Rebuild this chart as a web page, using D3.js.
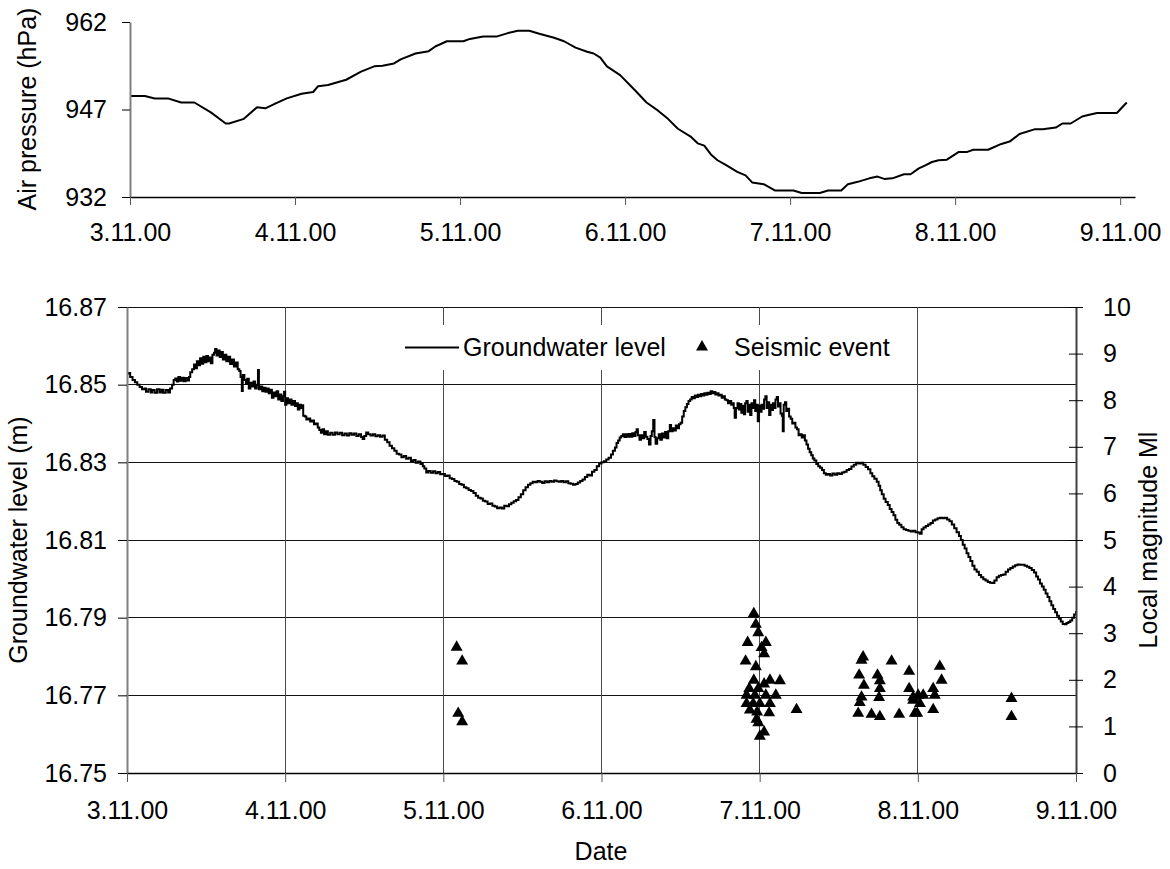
<!DOCTYPE html>
<html>
<head>
<meta charset="utf-8">
<script src="https://cdn.jsdelivr.net/npm/d3@7"></script>
<style>
  body { margin: 0; background: #fff; }
  svg text { font-family: "Liberation Sans", Arial, Helvetica, sans-serif; fill: #000; }
</style>
</head>
<body>
<svg id="chart" width="1170" height="869"></svg>
<script>
// ---------- data ----------
// Day offsets are counted from 3.11.00 00:00.
const dateLabels = ["3.11.00", "4.11.00", "5.11.00", "6.11.00", "7.11.00", "8.11.00", "9.11.00"];
const dayTicks = [0, 1, 2, 3, 4, 5, 6];
const pressureTicks = [932, 947, 962];
const levelTicks = [16.75, 16.77, 16.79, 16.81, 16.83, 16.85, 16.87];
const magnitudeTicks = [0, 1, 2, 3, 4, 5, 6, 7, 8, 9, 10];

// Air pressure [day, hPa]
const pressureReadings = [
  [0, 949.3], [0.09, 949.3], [0.15, 948.9], [0.23, 948.9], [0.31, 948.2], [0.39, 948.2], [0.49, 946.5], [0.58, 944.6], [0.60, 944.6], [0.69, 945.4],
  [0.77, 947.4], [0.82, 947.2], [0.88, 948.0], [0.95, 948.9], [1.04, 949.7], [1.11, 950.0], [1.14, 951.0], [1.20, 951.2], [1.31, 952.1], [1.40, 953.5],
  [1.48, 954.4], [1.53, 954.5], [1.60, 954.9], [1.64, 955.6], [1.73, 956.6], [1.81, 957.0], [1.85, 957.8], [1.92, 958.7], [2.02, 958.7], [2.06, 959.1],
  [2.14, 959.5], [2.22, 959.5], [2.29, 960.1], [2.35, 960.5], [2.42, 960.5], [2.48, 960.0], [2.57, 959.3], [2.63, 958.7], [2.70, 957.6], [2.77, 956.9],
  [2.81, 956.6], [2.85, 955.9], [2.89, 954.4], [2.97, 952.9], [3.06, 950.3], [3.13, 948.2], [3.20, 946.8], [3.26, 945.4], [3.32, 943.7], [3.40, 942.3],
  [3.44, 941.2], [3.48, 940.8], [3.52, 939.3], [3.56, 938.3], [3.61, 937.5], [3.68, 936.3], [3.73, 935.7], [3.77, 934.5], [3.84, 934.2], [3.91, 933.1],
  [4.02, 933.1], [4.07, 932.7], [4.18, 932.7], [4.23, 933.1], [4.31, 933.1], [4.35, 934.2], [4.41, 934.6], [4.48, 935.2], [4.53, 935.5], [4.57, 935.1],
  [4.62, 935.2], [4.69, 935.9], [4.73, 935.9], [4.78, 936.9], [4.81, 937.3], [4.86, 938.0], [4.90, 938.3], [4.95, 938.4], [5.02, 939.7], [5.07, 939.7],
  [5.11, 940.1], [5.20, 940.1], [5.28, 941.1], [5.33, 941.5], [5.39, 942.8], [5.48, 943.6], [5.53, 943.6], [5.61, 943.9], [5.65, 944.6], [5.70, 944.6],
  [5.77, 945.8], [5.80, 946.0], [5.86, 946.4], [5.98, 946.4], [6.04, 948.2]
];

// Groundwater level [day, m]
const groundwaterReadings = [
  [0.000, 16.8528], [0.010, 16.8530], [0.020, 16.8520], [0.035, 16.8512], [0.050, 16.8506], [0.065, 16.8500], [0.080, 16.8494], [0.095, 16.8488],
  [0.110, 16.8490], [0.120, 16.8482], [0.135, 16.8488], [0.150, 16.8480], [0.160, 16.8486], [0.175, 16.8479], [0.190, 16.8488], [0.205, 16.8480],
  [0.218, 16.8487], [0.230, 16.8479], [0.245, 16.8486], [0.260, 16.8480], [0.272, 16.8490], [0.285, 16.8500], [0.295, 16.8512], [0.305, 16.8516],
  [0.315, 16.8508], [0.325, 16.8520], [0.335, 16.8510], [0.345, 16.8518], [0.358, 16.8509], [0.370, 16.8517], [0.382, 16.8511], [0.392, 16.8520],
  [0.400, 16.8532], [0.412, 16.8540], [0.424, 16.8552], [0.432, 16.8542], [0.442, 16.8560], [0.452, 16.8550], [0.462, 16.8568], [0.472, 16.8554],
  [0.482, 16.8572], [0.492, 16.8558], [0.502, 16.8574], [0.512, 16.8560], [0.522, 16.8570], [0.530, 16.8555], [0.540, 16.8577], [0.550, 16.8582],
  [0.557, 16.8592], [0.566, 16.8575], [0.576, 16.8588], [0.586, 16.8571], [0.596, 16.8584], [0.606, 16.8565], [0.616, 16.8577], [0.628, 16.8560],
  [0.640, 16.8572], [0.652, 16.8553], [0.664, 16.8565], [0.676, 16.8547], [0.688, 16.8557], [0.700, 16.8540], [0.710, 16.8535], [0.718, 16.8520],
  [0.726, 16.8484], [0.732, 16.8525], [0.742, 16.8512], [0.752, 16.8502], [0.760, 16.8515], [0.770, 16.8490], [0.780, 16.8505], [0.790, 16.8495],
  [0.800, 16.8508], [0.810, 16.8490], [0.820, 16.8500], [0.828, 16.8538], [0.834, 16.8488], [0.845, 16.8495], [0.855, 16.8483], [0.865, 16.8492],
  [0.875, 16.8482], [0.885, 16.8490], [0.896, 16.8478], [0.906, 16.8487], [0.916, 16.8466], [0.926, 16.8480], [0.936, 16.8470], [0.946, 16.8483],
  [0.956, 16.8462], [0.966, 16.8475], [0.976, 16.8458], [0.986, 16.8470], [0.993, 16.8482], [1.000, 16.8448], [1.008, 16.8465], [1.018, 16.8452],
  [1.028, 16.8462], [1.040, 16.8448], [1.052, 16.8458], [1.062, 16.8445], [1.072, 16.8452], [1.080, 16.8436], [1.090, 16.8448], [1.100, 16.8440],
  [1.108, 16.8447], [1.114, 16.8420], [1.124, 16.8418], [1.134, 16.8410], [1.146, 16.8413], [1.158, 16.8405], [1.170, 16.8408], [1.182, 16.8398],
  [1.194, 16.8400], [1.206, 16.8390], [1.216, 16.8383], [1.226, 16.8376], [1.236, 16.8385], [1.246, 16.8372], [1.258, 16.8380], [1.270, 16.8371],
  [1.285, 16.8376], [1.300, 16.8371], [1.315, 16.8377], [1.330, 16.8372], [1.345, 16.8376], [1.360, 16.8370], [1.375, 16.8374], [1.390, 16.8369],
  [1.405, 16.8375], [1.420, 16.8371], [1.435, 16.8374], [1.450, 16.8368], [1.465, 16.8372], [1.480, 16.8365], [1.490, 16.8360], [1.500, 16.8368],
  [1.512, 16.8377], [1.525, 16.8372], [1.540, 16.8369], [1.555, 16.8372], [1.570, 16.8367], [1.585, 16.8370], [1.600, 16.8366], [1.615, 16.8369],
  [1.630, 16.8358], [1.645, 16.8352], [1.660, 16.8343], [1.675, 16.8336], [1.690, 16.8330], [1.705, 16.8322], [1.720, 16.8320], [1.735, 16.8313],
  [1.750, 16.8316], [1.765, 16.8309], [1.780, 16.8312], [1.795, 16.8303], [1.810, 16.8306], [1.825, 16.8299], [1.840, 16.8302], [1.855, 16.8296],
  [1.870, 16.8290], [1.880, 16.8284], [1.892, 16.8274], [1.905, 16.8278], [1.920, 16.8273], [1.935, 16.8277], [1.950, 16.8272], [1.965, 16.8275],
  [1.980, 16.8269], [1.995, 16.8270], [2.010, 16.8265], [2.025, 16.8266], [2.040, 16.8259], [2.055, 16.8257], [2.070, 16.8252], [2.085, 16.8250],
  [2.100, 16.8244], [2.115, 16.8242], [2.130, 16.8236], [2.145, 16.8233], [2.160, 16.8229], [2.175, 16.8226], [2.190, 16.8221], [2.205, 16.8214],
  [2.220, 16.8209], [2.235, 16.8207], [2.250, 16.8201], [2.265, 16.8199], [2.280, 16.8193], [2.295, 16.8194], [2.310, 16.8188], [2.325, 16.8186],
  [2.340, 16.8182], [2.355, 16.8184], [2.370, 16.8181], [2.385, 16.8188], [2.400, 16.8187], [2.415, 16.8192], [2.430, 16.8196], [2.445, 16.8200],
  [2.460, 16.8203], [2.475, 16.8210], [2.490, 16.8218], [2.505, 16.8228], [2.520, 16.8236], [2.535, 16.8242], [2.550, 16.8246], [2.565, 16.8250],
  [2.580, 16.8249], [2.595, 16.8252], [2.610, 16.8250], [2.625, 16.8247], [2.640, 16.8251], [2.655, 16.8249], [2.670, 16.8252], [2.685, 16.8250],
  [2.700, 16.8253], [2.715, 16.8251], [2.730, 16.8250], [2.745, 16.8252], [2.760, 16.8249], [2.775, 16.8251], [2.790, 16.8246], [2.805, 16.8245],
  [2.820, 16.8242], [2.835, 16.8244], [2.850, 16.8248], [2.865, 16.8252], [2.880, 16.8256], [2.895, 16.8262], [2.910, 16.8268], [2.925, 16.8266],
  [2.940, 16.8276], [2.955, 16.8280], [2.970, 16.8290], [2.985, 16.8297], [3.000, 16.8300], [3.015, 16.8303], [3.030, 16.8307], [3.045, 16.8312],
  [3.060, 16.8320], [3.072, 16.8330], [3.085, 16.8338], [3.095, 16.8350], [3.105, 16.8356], [3.115, 16.8364], [3.125, 16.8368], [3.135, 16.8372],
  [3.145, 16.8365], [3.155, 16.8372], [3.165, 16.8366], [3.175, 16.8373], [3.185, 16.8366], [3.195, 16.8375], [3.205, 16.8368], [3.215, 16.8378],
  [3.222, 16.8385], [3.230, 16.8370], [3.240, 16.8358], [3.250, 16.8370], [3.260, 16.8362], [3.270, 16.8378], [3.280, 16.8366], [3.290, 16.8360],
  [3.300, 16.8346], [3.310, 16.8368], [3.318, 16.8380], [3.327, 16.8409], [3.335, 16.8365], [3.342, 16.8348], [3.352, 16.8362], [3.362, 16.8372],
  [3.372, 16.8358], [3.382, 16.8374], [3.392, 16.8364], [3.402, 16.8378], [3.412, 16.8362], [3.422, 16.8380], [3.432, 16.8396], [3.440, 16.8380],
  [3.450, 16.8388], [3.460, 16.8382], [3.470, 16.8395], [3.480, 16.8388], [3.490, 16.8398], [3.500, 16.8402], [3.510, 16.8418], [3.520, 16.8432],
  [3.530, 16.8442], [3.540, 16.8450], [3.550, 16.8458], [3.560, 16.8462], [3.570, 16.8468], [3.580, 16.8465], [3.590, 16.8472], [3.600, 16.8468],
  [3.610, 16.8474], [3.620, 16.8470], [3.630, 16.8476], [3.640, 16.8472], [3.650, 16.8478], [3.660, 16.8474], [3.670, 16.8479], [3.680, 16.8476],
  [3.690, 16.8483], [3.700, 16.8478], [3.710, 16.8481], [3.720, 16.8475], [3.730, 16.8478], [3.740, 16.8472], [3.750, 16.8474], [3.760, 16.8466],
  [3.770, 16.8470], [3.780, 16.8462], [3.790, 16.8460], [3.800, 16.8452], [3.810, 16.8458], [3.820, 16.8448], [3.830, 16.8452], [3.836, 16.8440],
  [3.842, 16.8415], [3.850, 16.8440], [3.860, 16.8452], [3.868, 16.8436], [3.876, 16.8450], [3.884, 16.8428], [3.892, 16.8446], [3.900, 16.8424],
  [3.908, 16.8452], [3.916, 16.8458], [3.924, 16.8430], [3.932, 16.8448], [3.940, 16.8422], [3.948, 16.8452], [3.956, 16.8440], [3.964, 16.8460],
  [3.972, 16.8432], [3.980, 16.8448], [3.988, 16.8406], [3.996, 16.8446], [4.004, 16.8430], [4.012, 16.8448], [4.020, 16.8438], [4.028, 16.8462],
  [4.036, 16.8470], [4.044, 16.8440], [4.052, 16.8455], [4.060, 16.8422], [4.068, 16.8448], [4.076, 16.8435], [4.084, 16.8452], [4.092, 16.8440],
  [4.100, 16.8462], [4.108, 16.8468], [4.116, 16.8444], [4.124, 16.8452], [4.132, 16.8426], [4.140, 16.8420], [4.146, 16.8380], [4.152, 16.8448],
  [4.160, 16.8455], [4.168, 16.8432], [4.176, 16.8438], [4.186, 16.8418], [4.196, 16.8412], [4.206, 16.8400], [4.216, 16.8402], [4.226, 16.8390],
  [4.236, 16.8385], [4.246, 16.8370], [4.256, 16.8372], [4.266, 16.8364], [4.276, 16.8370], [4.286, 16.8356], [4.296, 16.8346], [4.306, 16.8335],
  [4.316, 16.8326], [4.326, 16.8318], [4.336, 16.8310], [4.346, 16.8305], [4.358, 16.8296], [4.370, 16.8290], [4.382, 16.8286], [4.394, 16.8280],
  [4.406, 16.8272], [4.418, 16.8268], [4.430, 16.8270], [4.445, 16.8266], [4.460, 16.8271], [4.475, 16.8268], [4.490, 16.8272], [4.505, 16.8270],
  [4.520, 16.8274], [4.535, 16.8276], [4.550, 16.8280], [4.565, 16.8283], [4.580, 16.8289], [4.595, 16.8294], [4.610, 16.8299], [4.625, 16.8297],
  [4.640, 16.8299], [4.655, 16.8294], [4.670, 16.8288], [4.685, 16.8282], [4.700, 16.8272], [4.712, 16.8264], [4.725, 16.8258], [4.740, 16.8250],
  [4.752, 16.8240], [4.762, 16.8228], [4.772, 16.8218], [4.784, 16.8206], [4.796, 16.8198], [4.810, 16.8190], [4.822, 16.8180], [4.834, 16.8172],
  [4.846, 16.8164], [4.858, 16.8152], [4.870, 16.8144], [4.882, 16.8139], [4.896, 16.8133], [4.910, 16.8128], [4.925, 16.8126], [4.940, 16.8124],
  [4.955, 16.8122], [4.970, 16.8124], [4.985, 16.8120], [5.000, 16.8119], [5.012, 16.8116], [5.024, 16.8128], [5.036, 16.8132], [5.050, 16.8136],
  [5.065, 16.8140], [5.080, 16.8144], [5.095, 16.8150], [5.110, 16.8153], [5.125, 16.8156], [5.140, 16.8157], [5.155, 16.8156], [5.170, 16.8157],
  [5.185, 16.8153], [5.200, 16.8148], [5.215, 16.8140], [5.230, 16.8130], [5.245, 16.8120], [5.260, 16.8110], [5.272, 16.8100], [5.284, 16.8088],
  [5.296, 16.8078], [5.308, 16.8066], [5.320, 16.8056], [5.332, 16.8046], [5.345, 16.8034], [5.358, 16.8024], [5.372, 16.8018], [5.386, 16.8010],
  [5.400, 16.8004], [5.414, 16.7999], [5.428, 16.7996], [5.442, 16.7992], [5.456, 16.7990], [5.470, 16.7989], [5.484, 16.7996], [5.498, 16.8004],
  [5.512, 16.8008], [5.526, 16.8010], [5.540, 16.8011], [5.555, 16.8018], [5.570, 16.8024], [5.585, 16.8028], [5.600, 16.8032], [5.615, 16.8035],
  [5.630, 16.8037], [5.645, 16.8036], [5.660, 16.8036], [5.675, 16.8034], [5.690, 16.8031], [5.705, 16.8028], [5.720, 16.8023], [5.735, 16.8016],
  [5.748, 16.8006], [5.760, 16.7998], [5.772, 16.7988], [5.784, 16.7980], [5.796, 16.7972], [5.808, 16.7962], [5.820, 16.7953], [5.832, 16.7942],
  [5.844, 16.7932], [5.856, 16.7922], [5.868, 16.7914], [5.880, 16.7905], [5.892, 16.7897], [5.904, 16.7890], [5.916, 16.7884], [5.928, 16.7883],
  [5.940, 16.7886], [5.952, 16.7889], [5.964, 16.7893], [5.976, 16.7900], [5.988, 16.7908], [6.000, 16.7917]
];

// Seismic events [day, local magnitude Ml]
const seismicEvents = [
  [2.084, 2.70], [2.119, 2.40], [2.094, 1.28], [2.119, 1.10],
  [3.963, 3.42], [3.976, 3.19], [3.991, 3.01], [3.924, 2.80], [4.039, 2.80], [4.012, 2.69], [4.028, 2.56], [3.911, 2.40],
  [3.976, 2.28], [3.963, 1.99], [4.028, 1.91], [4.065, 1.99], [4.128, 1.98], [3.934, 1.81], [3.991, 1.81], [3.917, 1.67],
  [3.970, 1.67], [4.039, 1.67], [4.102, 1.67], [3.917, 1.49], [3.959, 1.49], [4.001, 1.49], [4.065, 1.49], [3.938, 1.35],
  [3.984, 1.31], [4.060, 1.29], [3.980, 1.15], [3.991, 1.08], [4.028, 0.88], [4.001, 0.79], [4.233, 1.36],
  [4.654, 2.49], [4.644, 2.42], [4.629, 2.10], [4.659, 1.88], [4.644, 1.63], [4.633, 1.51], [4.623, 1.28], [4.745, 2.10],
  [4.760, 1.98], [4.760, 1.81], [4.755, 1.62], [4.707, 1.26], [4.760, 1.21], [4.834, 2.40], [4.882, 1.26], [4.945, 2.18],
  [4.945, 1.81], [4.970, 1.63], [5.002, 1.67], [5.034, 1.67], [4.970, 1.56], [5.013, 1.49], [4.981, 1.28], [4.996, 1.28],
  [5.097, 1.81], [5.107, 1.67], [5.097, 1.36], [5.139, 2.29], [5.150, 1.99], [5.592, 1.60], [5.592, 1.21]
];

// ---------- drawing ----------
const FONT = "Liberation Sans, Arial, Helvetica, sans-serif";
const FS = 25;
const MARKER = 62;
const svg = d3.select("#chart");

function styleAxis(g, domainColor, domainWidth, tickColor) {
  g.attr("font-family", FONT).attr("font-size", FS);
  g.select(".domain").attr("stroke", domainColor).attr("stroke-width", domainWidth);
  g.selectAll(".tick line").attr("stroke", tickColor).attr("stroke-width", 1);
  g.selectAll(".tick text").attr("fill", "#000");
}

// ----- Air pressure panel -----
const xP = d3.scaleLinear().domain([0, 6.09]).range([130, 1135]);
const yP = d3.scaleLinear().domain([932, 962]).range([197, 22]);
const pressurePanel = svg.append("g");

pressurePanel.append("path")
  .datum(pressureReadings)
  .attr("fill", "none")
  .attr("stroke", "#000")
  .attr("stroke-width", 2)
  .attr("stroke-linejoin", "round")
  .attr("d", d3.line().x(d => xP(d[0])).y(d => yP(d[1])));

const pressureAxisY = pressurePanel.append("g")
  .attr("transform", "translate(130,0)")
  .call(d3.axisLeft(yP).tickValues(pressureTicks).tickSize(8).tickSizeOuter(0).tickPadding(15).tickFormat(d3.format("d")));
styleAxis(pressureAxisY, "#808080", 2, "#000");

const pressureAxisX = pressurePanel.append("g")
  .attr("transform", "translate(0,197)")
  .call(d3.axisBottom(xP).tickValues(dayTicks).tickSize(8).tickSizeOuter(0).tickPadding(18)
    .tickFormat((d, i) => dateLabels[i]));
styleAxis(pressureAxisX, "#000", 1.5, "#555");

pressurePanel.append("text")
  .attr("transform", "translate(27,109) rotate(-90)")
  .attr("text-anchor", "middle")
  .attr("dominant-baseline", "central")
  .attr("font-size", FS)
  .text("Air pressure (hPa)");

// ----- Groundwater / seismic panel -----
const xG = d3.scaleLinear().domain([0, 6]).range([127, 1076]);
const yG = d3.scaleLinear().domain([16.75, 16.87]).range([773, 307]);
const yM = d3.scaleLinear().domain([0, 10]).range([773, 307]);
const levelPanel = svg.append("g");

// grid
levelPanel.append("g").selectAll("line")
  .data(levelTicks)
  .join("line")
  .attr("x1", xG(0)).attr("x2", xG(6))
  .attr("y1", d => yG(d)).attr("y2", d => yG(d))
  .attr("stroke", "#111").attr("stroke-width", 1)
  .attr("shape-rendering", "crispEdges");

levelPanel.append("g").selectAll("line")
  .data(dayTicks.slice(1, -1))
  .join("line")
  .attr("x1", d => xG(d)).attr("x2", d => xG(d))
  .attr("y1", yG(16.87)).attr("y2", yG(16.75))
  .attr("stroke", "#4a4a4a").attr("stroke-width", 1)
  .attr("shape-rendering", "crispEdges");

// legend
const legend = levelPanel.append("g");
legend.append("rect")
  .attr("x", 395).attr("y", 325).attr("width", 510).attr("height", 45)
  .attr("fill", "#fff");
legend.append("line")
  .attr("x1", 405).attr("x2", 459).attr("y1", 347.5).attr("y2", 347.5)
  .attr("stroke", "#000").attr("stroke-width", 1.8);
legend.append("text")
  .attr("x", 463).attr("y", 347)
  .attr("dominant-baseline", "central")
  .attr("font-size", FS)
  .text("Groundwater level");
legend.append("path")
  .attr("transform", "translate(702,347)")
  .attr("d", d3.symbol().type(d3.symbolTriangle).size(MARKER)())
  .attr("fill", "#000");
legend.append("text")
  .attr("x", 734).attr("y", 347)
  .attr("dominant-baseline", "central")
  .attr("font-size", FS)
  .text("Seismic event");

// groundwater level (logger readings held until the next sample)
levelPanel.append("path")
  .datum(groundwaterReadings)
  .attr("fill", "none")
  .attr("stroke", "#000")
  .attr("stroke-width", 2)
  .attr("stroke-linejoin", "miter")
  .attr("d", d3.line().curve(d3.curveStepAfter).x(d => xG(d[0])).y(d => yG(d[1])));

// seismic events
levelPanel.append("g").selectAll("path")
  .data(seismicEvents)
  .join("path")
  .attr("transform", d => `translate(${xG(d[0])},${yM(d[1])})`)
  .attr("d", d3.symbol().type(d3.symbolTriangle).size(MARKER)())
  .attr("fill", "#000");

// axes
const levelAxisY = levelPanel.append("g")
  .attr("transform", "translate(127,0)")
  .call(d3.axisLeft(yG).tickValues(levelTicks).tickSize(9).tickSizeOuter(0).tickPadding(11).tickFormat(d3.format(".2f")));
styleAxis(levelAxisY, "#808080", 2, "#000");

const magnitudeAxis = levelPanel.append("g")
  .attr("transform", "translate(1076,0)")
  .call(d3.axisRight(yM).tickValues(magnitudeTicks).tickSize(7).tickSizeOuter(0).tickPadding(20).tickFormat(d3.format("d")));
styleAxis(magnitudeAxis, "#404040", 2, "#000");
// magnitude ticks cross the axis line
magnitudeAxis.selectAll(".tick line").attr("x1", -7);

const levelAxisX = levelPanel.append("g")
  .attr("transform", "translate(0,773)")
  .call(d3.axisBottom(xG).tickValues(dayTicks).tickSize(9).tickSizeOuter(0).tickPadding(19)
    .tickFormat((d, i) => dateLabels[i]));
styleAxis(levelAxisX, "#000", 1.5, "#555");

levelPanel.append("text")
  .attr("transform", "translate(18,540) rotate(-90)")
  .attr("text-anchor", "middle")
  .attr("dominant-baseline", "central")
  .attr("font-size", FS)
  .text("Groundwater level (m)");

levelPanel.append("text")
  .attr("transform", "translate(1148,540) rotate(-90)")
  .attr("text-anchor", "middle")
  .attr("dominant-baseline", "central")
  .attr("font-size", FS)
  .text("Local magnitude Ml");

levelPanel.append("text")
  .attr("x", 601).attr("y", 851)
  .attr("text-anchor", "middle")
  .attr("dominant-baseline", "central")
  .attr("font-size", FS)
  .text("Date");
</script>
</body>
</html>
